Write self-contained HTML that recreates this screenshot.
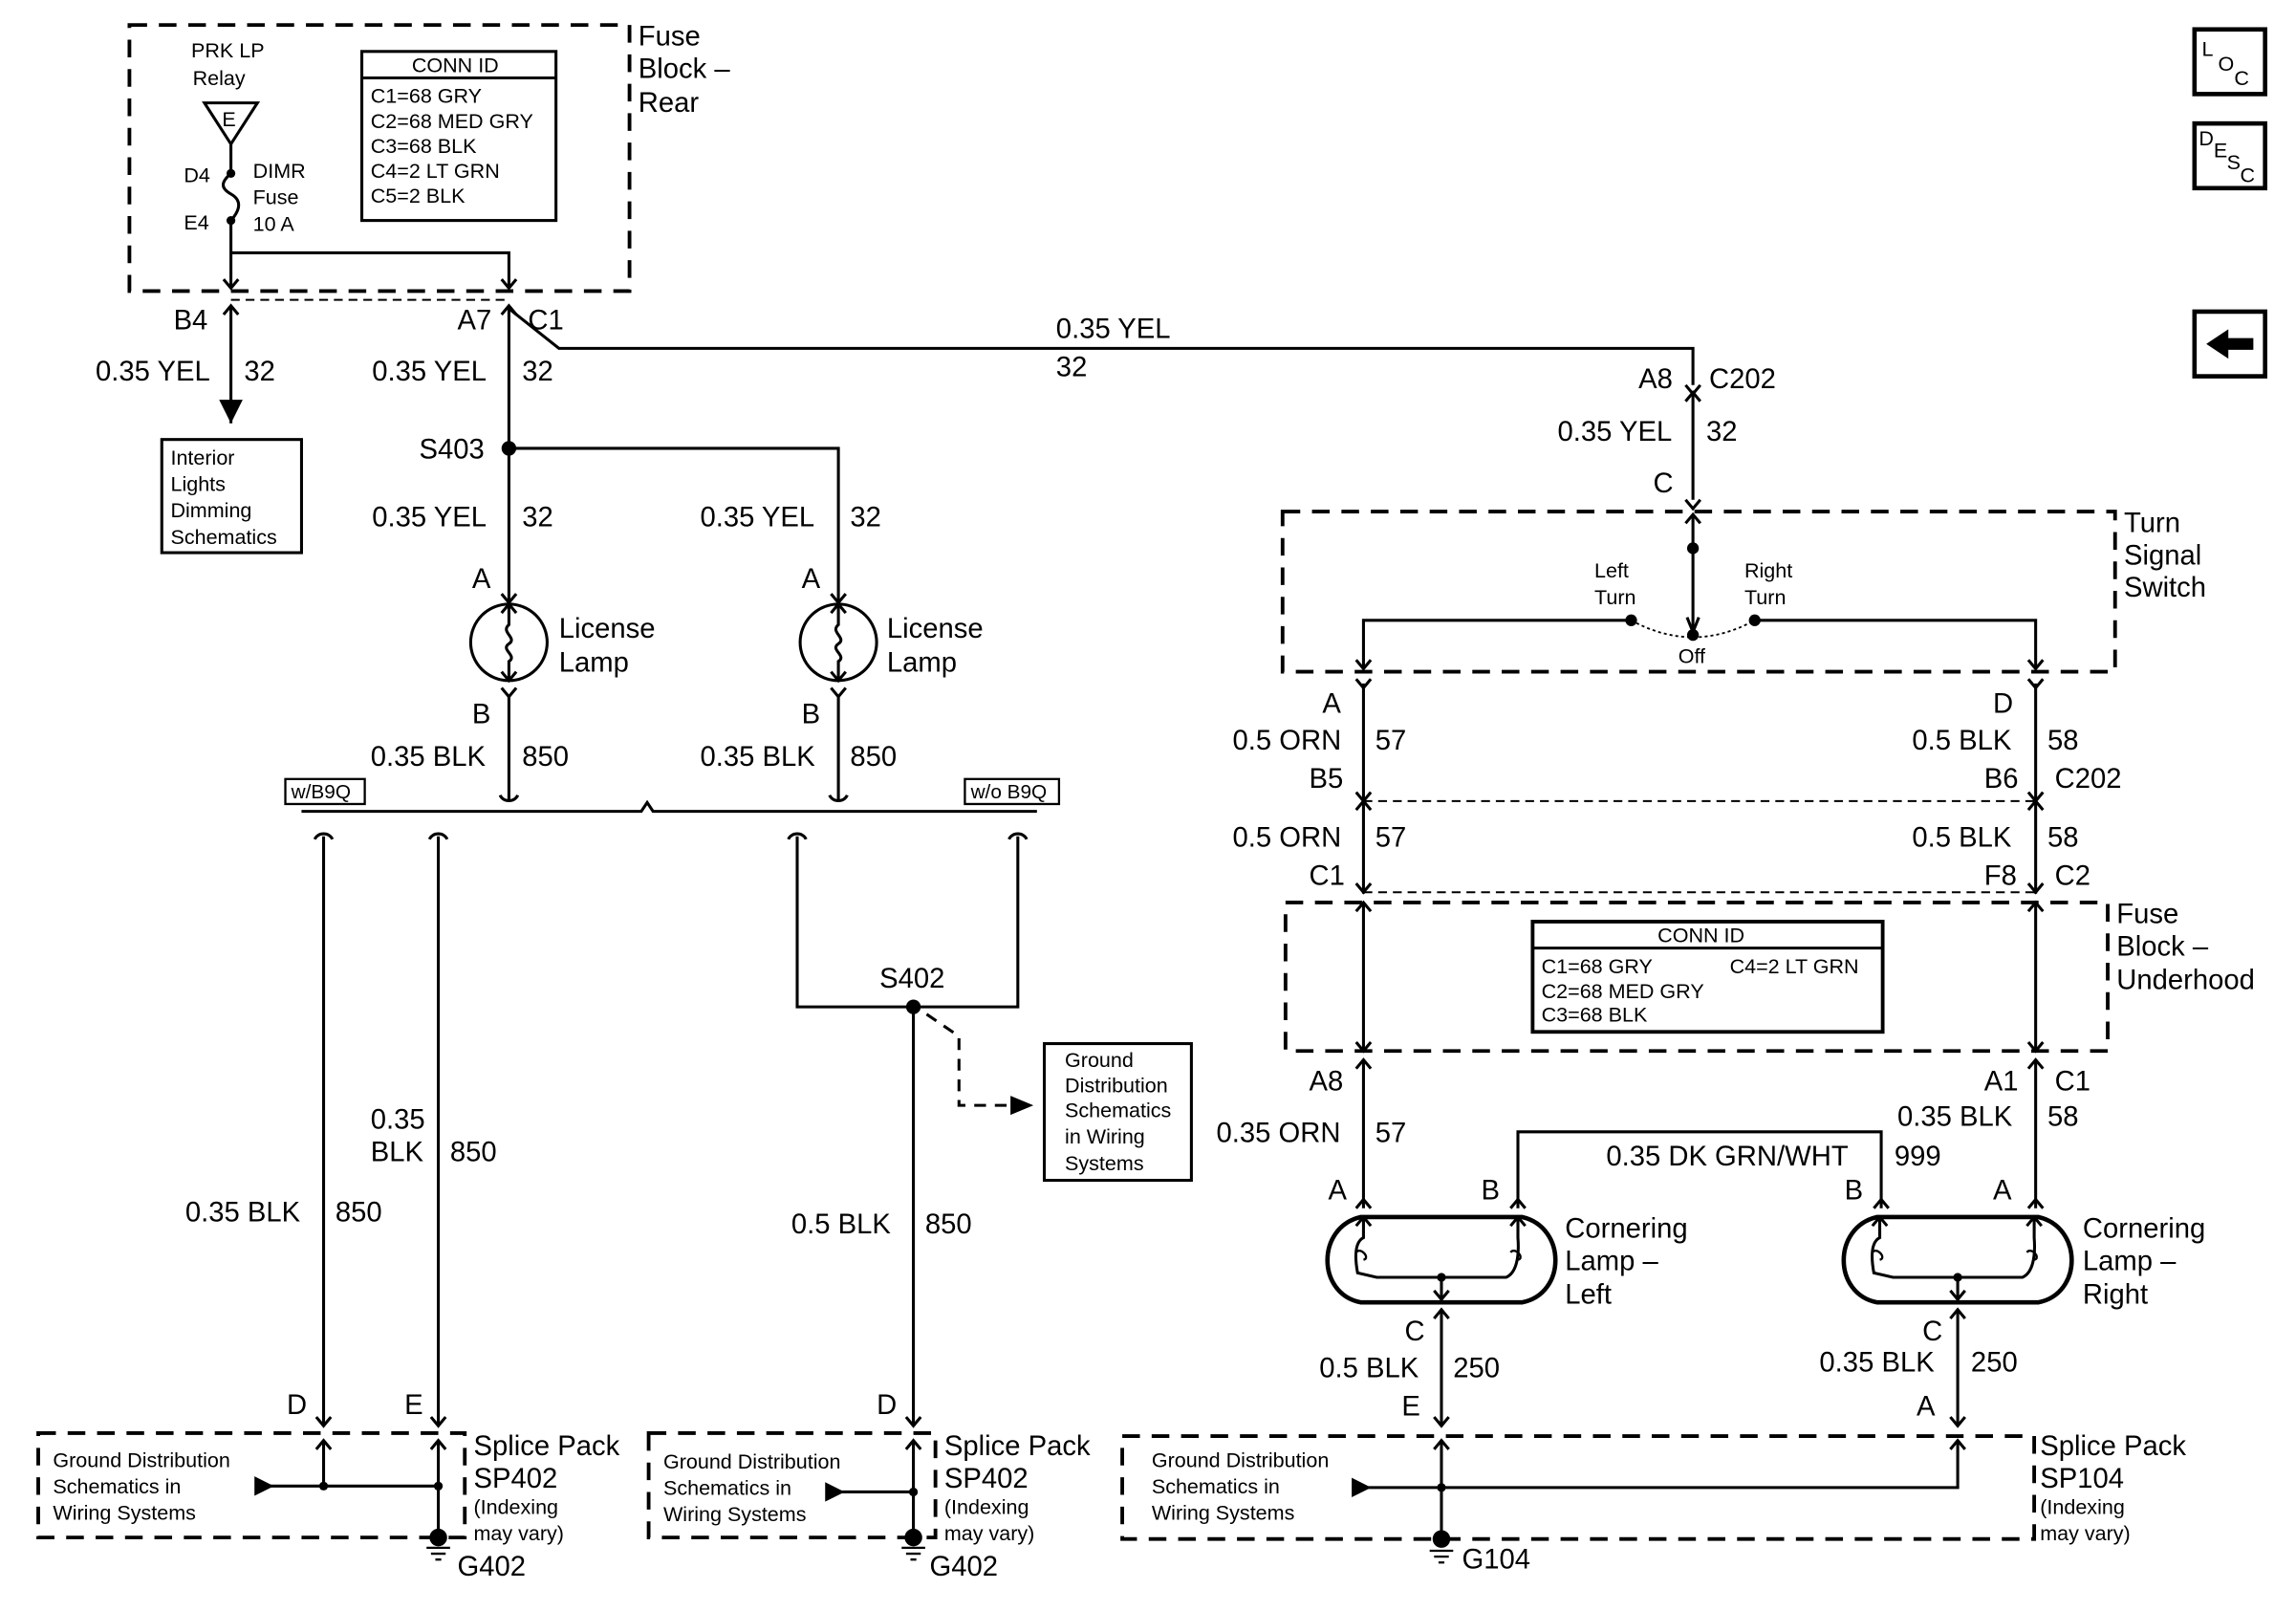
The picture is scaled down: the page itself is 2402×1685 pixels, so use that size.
<!DOCTYPE html>
<html><head><meta charset="utf-8"><style>
html,body{margin:0;padding:0;background:#fff;}
svg{display:block;}
text{font-family:"Liberation Sans",Arial,sans-serif;fill:#000;}
.L{font-size:19px;}
.S{font-size:14px;}
.M{font-size:13.5px;}
</style></head><body>
<svg width="2402" height="1685" viewBox="0 0 1561 1096" preserveAspectRatio="none" xmlns="http://www.w3.org/2000/svg">
<rect width="1561" height="1096" fill="#fff"/>
<defs>
<marker id="ar" viewBox="0 0 10 10" refX="10" refY="5" markerWidth="8" markerHeight="8" orient="auto"><path d="M0,0 L10,5 L0,10 z" fill="#000"/></marker>
</defs>
<g fill="none" stroke="#000" stroke-width="2">
<!-- dashed boxes -->
<g stroke-dasharray="12,8" stroke-width="2.5">
<rect x="88" y="17" width="340" height="181"/>
<rect x="872" y="348" width="566" height="109"/>
<rect x="874" y="614" width="559" height="101"/>
<rect x="26" y="975" width="290" height="71"/>
<rect x="441" y="975" width="195" height="71"/>
<rect x="763" y="977" width="620" height="70"/>
</g>
<g stroke-dasharray="6,4" stroke-width="1.3">
<line x1="157" y1="204" x2="346" y2="204"/>
<line x1="927" y1="545" x2="1384" y2="545"/>
<line x1="927" y1="607" x2="1384" y2="607"/>
</g>
<!-- CONN ID box rear -->
<rect x="246" y="35" width="132" height="115"/>
<line x1="246" y1="53" x2="378" y2="53"/>
<!-- conn id underhood -->
<rect x="1042" y="627" width="238" height="75" stroke-width="2.5"/>
<line x1="1042" y1="645" x2="1280" y2="645"/>
<!-- relay -->
<path d="M139,70 L175,70 L157,98 Z"/>
<line x1="157" y1="98" x2="157" y2="118"/>
<path d="M157,118 C150,124 150,128 157,132 C164,136 164,142 157,150"/>
<line x1="157" y1="150" x2="157" y2="196"/>
<polyline points="157,172 346,172 346,196"/>
<path d="M152,190 L157,196 L162,190 M341,190 L346,196 L351,190"/>
<!-- left branch -->
<path d="M152,214 L157,208 L162,214"/>
<line x1="157" y1="208" x2="157" y2="288" marker-end="url(#ar)"/>
<rect x="110" y="299" width="95" height="77"/>
<path d="M341,214 L346,208 L351,214"/>
<line x1="346" y1="208" x2="346" y2="410"/>
<polyline points="346,210 380,237 1151,237 1151,262"/>
<path d="M1146,262 L1151,268 L1156,262 M1146,273 L1151,267 L1156,273"/>
<line x1="1151" y1="267" x2="1151" y2="340"/>
<path d="M1146,340 L1151,346 L1156,340"/>
<polyline points="346,305 570,305 570,410"/>
<path d="M341,404 L346,410 L351,404 M565,404 L570,410 L575,404"/>
<!-- lamps -->
<circle cx="346" cy="437" r="26"/><circle cx="570" cy="437" r="26"/>
<path d="M346,411 L346,425 C340,430 352,434 346,438 C340,442 352,446 346,450 L346,463 M341,417 L346,411 L351,417 M341,457 L346,463 L351,457"/>
<path d="M570,411 L570,425 C564,430 576,434 570,438 C564,442 576,446 570,450 L570,463 M565,417 L570,411 L575,417 M565,457 L570,463 L575,457"/>
<path d="M341,468 L346,474 L351,468 M565,468 L570,474 L575,468"/>
<line x1="346" y1="474" x2="346" y2="545"/><line x1="570" y1="474" x2="570" y2="545"/>
<path d="M340,541 C342,546 350,546 352,541 M564,541 C566,546 574,546 576,541"/>
<path d="M205,552 L436,552 L440,546 L444,552 L705,552"/>
<rect x="194" y="530" width="54" height="17" stroke-width="1.5"/>
<rect x="656" y="530" width="64" height="17" stroke-width="1.5"/>
<path d="M214,571 C216,566 224,566 226,571 M292,571 C294,566 302,566 304,571 M536,571 C538,566 546,566 548,571 M686,571 C688,566 696,566 698,571"/>
<line x1="220" y1="569" x2="220" y2="970"/><line x1="298" y1="569" x2="298" y2="970"/>
<polyline points="542,569 542,685 692,685 692,569"/>
<line x1="621" y1="685" x2="621" y2="970"/>
<path d="M630,690 L652,705 L652,752 L698,752" stroke-dasharray="8,6"/>
<path d="M688,747 L700,752 L688,757 Z" fill="#000"/>
<rect x="710" y="710" width="100" height="93"/>
<path d="M215,964 L220,970 L225,964 M293,964 L298,970 L303,964 M616,964 L621,970 L626,964"/>
<!-- splice pack left -->
<path d="M215,986 L220,980 L225,986 M293,986 L298,980 L303,986 M616,986 L621,980 L626,986"/>
<line x1="220" y1="980" x2="220" y2="1011"/>
<line x1="298" y1="980" x2="298" y2="1048"/>
<line x1="176" y1="1011" x2="298" y2="1011"/>
<path d="M174,1006 L184,1011 L174,1016 Z" fill="#000"/>
<line x1="621" y1="980" x2="621" y2="1048"/>
<line x1="563" y1="1015" x2="621" y2="1015"/>
<path d="M562,1010 L572,1015 L562,1020 Z" fill="#000"/>
<!-- turn switch -->
<line x1="1151" y1="350" x2="1151" y2="430"/>
<path d="M1146,356 L1151,350 L1156,356 M1147,420 L1151,430 L1155,420"/>
<polyline points="1109,422 927,422 927,455"/>
<polyline points="1193,422 1384,422 1384,455"/>
<path d="M922,449 L927,455 L932,449 M1379,449 L1384,455 L1389,449"/>
<path d="M1109,422 Q1151,445 1193,422" stroke-dasharray="2,2" stroke-width="1.2"/>
<path d="M922,462 L927,468 L932,462 M1379,462 L1384,468 L1389,462"/>
<line x1="927" y1="465" x2="927" y2="608"/><line x1="1384" y1="465" x2="1384" y2="608"/>
<path d="M922,539 L927,545 L932,539 M1379,539 L1384,545 L1389,539 M922,551 L927,545 L932,551 M1379,551 L1384,545 L1389,551"/>
<path d="M922,601 L927,607 L932,601 M1379,601 L1384,607 L1389,601"/>
<line x1="927" y1="614" x2="927" y2="715"/><line x1="1384" y1="614" x2="1384" y2="715"/>
<path d="M922,620 L927,614 L932,620 M1379,620 L1384,614 L1389,620 M922,709 L927,715 L932,709 M1379,709 L1384,715 L1389,709"/>
<path d="M922,727 L927,721 L932,727 M1379,727 L1384,721 L1389,727"/>
<line x1="927" y1="721" x2="927" y2="822"/><line x1="1384" y1="721" x2="1384" y2="822"/>
<polyline points="1032,822 1032,770 1279,770 1279,822"/>
<path d="M922,822 L927,816 L932,822 M1027,822 L1032,816 L1037,822 M1274,822 L1279,816 L1284,822 M1379,822 L1384,816 L1389,822"/>
<!-- cornering lamps -->
<g stroke-width="3">
<path d="M925,828 L1035,828 C1065,835 1065,880 1035,886 L925,886 C895,880 895,835 925,828 Z"/>
<path d="M1276,828 L1386,828 C1416,835 1416,880 1386,886 L1276,886 C1246,880 1246,835 1276,828 Z"/>
</g>
<path d="M927,828 L927,842 C921,845 921,855 923,866 L936,869 L1024,869 C1031,866 1033,855 1032,842 L1032,828 M922,834 L927,828 L932,834 M1027,834 L1032,828 L1037,834 M980,869 L980,884 M975,878 L980,884 L985,878"/>
<path d="M1278,828 L1278,842 C1272,845 1272,855 1274,866 L1287,869 L1375,869 C1382,866 1384,855 1383,842 L1383,828 M1273,834 L1278,828 L1283,834 M1378,834 L1383,828 L1388,834 M1331,869 L1331,884 M1326,878 L1331,884 L1336,878"/>
<path d="M922,852 C925,848 932,856 927,857 M1027,852 C1030,848 1037,856 1032,857 M1273,852 C1276,848 1283,856 1278,857 M1378,852 C1381,848 1388,856 1383,857" stroke-width="1.5"/>
<path d="M975,897 L980,891 L985,897 M1326,897 L1331,891 L1336,897"/>
<line x1="980" y1="891" x2="980" y2="970"/><line x1="1331" y1="891" x2="1331" y2="970"/>
<path d="M975,964 L980,970 L985,964 M1326,964 L1331,970 L1336,964"/>
<path d="M975,986 L980,980 L985,986 M1326,986 L1331,980 L1336,986"/>
<line x1="980" y1="980" x2="980" y2="1050"/>
<polyline points="922,1012 1331,1012 1331,980"/>
<path d="M920,1007 L930,1012 L920,1017 Z" fill="#000"/>
<!-- grounds -->
<path d="M290,1053 L306,1053 M293,1057 L303,1057 M296,1061 L300,1061 M613,1053 L629,1053 M616,1057 L626,1057 M619,1061 L623,1061 M972,1055 L988,1055 M975,1059 L985,1059 M978,1063 L982,1063" stroke-width="1.5"/>
<!-- side icons -->
<rect x="1492" y="20" width="48" height="44" stroke-width="3"/>
<rect x="1492" y="84" width="48" height="44" stroke-width="3"/>
<rect x="1492" y="212" width="48" height="44" stroke-width="3"/>
</g>
<path d="M1500,234 L1515,224 L1515,230 L1532,230 L1532,238 L1515,238 L1515,244 Z" fill="#000"/>
<!-- dots -->
<g fill="#000">
<circle cx="157" cy="118" r="3"/><circle cx="157" cy="150" r="3"/>
<circle cx="346" cy="305" r="5"/><circle cx="621" cy="685" r="5"/>
<circle cx="220" cy="1011" r="3"/><circle cx="298" cy="1011" r="3"/><circle cx="621" cy="1015" r="3"/><circle cx="980" cy="1012" r="3"/>
<circle cx="298" cy="1046" r="6"/><circle cx="621" cy="1046" r="6"/><circle cx="980" cy="1047" r="6"/>
<circle cx="1151" cy="373" r="4"/><circle cx="1109" cy="422" r="4"/><circle cx="1193" cy="422" r="4"/><circle cx="1151" cy="432" r="4"/>
<circle cx="980" cy="869" r="3"/><circle cx="1331" cy="869" r="3"/>
</g>
<!-- text -->
<g class="L">
<text x="434" y="31">Fuse</text><text x="434" y="53">Block –</text><text x="434" y="76">Rear</text>
<text x="118" y="224">B4</text><text x="311" y="224">A7</text><text x="359" y="224">C1</text>
<text x="65" y="259">0.35 YEL</text><text x="166" y="259">32</text>
<text x="253" y="259">0.35 YEL</text><text x="355" y="259">32</text>
<text x="718" y="230">0.35 YEL</text><text x="718" y="256">32</text>
<text x="1114" y="264">A8</text><text x="1162" y="264">C202</text>
<text x="1059" y="300">0.35 YEL</text><text x="1160" y="300">32</text>
<text x="1124" y="335">C</text>
<text x="285" y="312">S403</text>
<text x="253" y="358">0.35 YEL</text><text x="355" y="358">32</text>
<text x="476" y="358">0.35 YEL</text><text x="578" y="358">32</text>
<text x="321" y="400">A</text><text x="545" y="400">A</text>
<text x="380" y="434">License</text><text x="380" y="457">Lamp</text>
<text x="603" y="434">License</text><text x="603" y="457">Lamp</text>
<text x="321" y="492">B</text><text x="545" y="492">B</text>
<text x="252" y="521">0.35 BLK</text><text x="355" y="521">850</text>
<text x="476" y="521">0.35 BLK</text><text x="578" y="521">850</text>
<text x="598" y="672">S402</text>
<text x="252" y="768">0.35</text><text x="252" y="790">BLK</text><text x="306" y="790">850</text>
<text x="126" y="831">0.35 BLK</text><text x="228" y="831">850</text>
<text x="538" y="839">0.5 BLK</text><text x="629" y="839">850</text>
<text x="195" y="962">D</text><text x="275" y="962">E</text><text x="596" y="962">D</text>
<text x="322" y="990">Splice Pack</text><text x="322" y="1012">SP402</text>
<text x="642" y="990">Splice Pack</text><text x="642" y="1012">SP402</text>
<text x="1387" y="990">Splice Pack</text><text x="1387" y="1012">SP104</text>
<text x="311" y="1072">G402</text><text x="632" y="1072">G402</text><text x="994" y="1067">G104</text>
<text x="1444" y="362">Turn</text><text x="1444" y="384">Signal</text><text x="1444" y="406">Switch</text>
<text x="899" y="485">A</text><text x="1355" y="485">D</text>
<text x="838" y="510">0.5 ORN</text><text x="935" y="510">57</text>
<text x="1300" y="510">0.5 BLK</text><text x="1392" y="510">58</text>
<text x="890" y="536">B5</text><text x="1349" y="536">B6</text><text x="1397" y="536">C202</text>
<text x="838" y="576">0.5 ORN</text><text x="935" y="576">57</text>
<text x="1300" y="576">0.5 BLK</text><text x="1392" y="576">58</text>
<text x="890" y="602">C1</text><text x="1349" y="602">F8</text><text x="1397" y="602">C2</text>
<text x="1439" y="628">Fuse</text><text x="1439" y="650">Block –</text><text x="1439" y="673">Underhood</text>
<text x="890" y="742">A8</text><text x="1349" y="742">A1</text><text x="1397" y="742">C1</text>
<text x="827" y="777">0.35 ORN</text><text x="935" y="777">57</text>
<text x="1290" y="766">0.35 BLK</text><text x="1392" y="766">58</text>
<text x="1092" y="793">0.35 DK GRN/WHT</text><text x="1288" y="793">999</text>
<text x="903" y="816">A</text><text x="1007" y="816">B</text><text x="1254" y="816">B</text><text x="1355" y="816">A</text>
<text x="1064" y="842">Cornering</text><text x="1064" y="864">Lamp –</text><text x="1064" y="887">Left</text>
<text x="1416" y="842">Cornering</text><text x="1416" y="864">Lamp –</text><text x="1416" y="887">Right</text>
<text x="955" y="912">C</text><text x="1307" y="912">C</text>
<text x="897" y="937">0.5 BLK</text><text x="988" y="937">250</text>
<text x="1237" y="933">0.35 BLK</text><text x="1340" y="933">250</text>
<text x="953" y="963">E</text><text x="1303" y="963">A</text>
</g>
<g class="S">
<text x="130" y="39">PRK LP</text><text x="131" y="58">Relay</text>
<text x="151" y="86">E</text>
<text x="125" y="124">D4</text><text x="125" y="156">E4</text>
<text x="172" y="121">DIMR</text><text x="172" y="139">Fuse</text><text x="172" y="157">10 A</text>
<text x="280" y="49">CONN ID</text>
<text x="252" y="70">C1=68 GRY</text><text x="252" y="87">C2=68 MED GRY</text><text x="252" y="104">C3=68 BLK</text><text x="252" y="121">C4=2 LT GRN</text><text x="252" y="138">C5=2 BLK</text>
<text x="116" y="316">Interior</text><text x="116" y="334">Lights</text><text x="116" y="352">Dimming</text><text x="116" y="370">Schematics</text>
<text x="198" y="543" class="M">w/B9Q</text><text x="660" y="543" class="M">w/o B9Q</text>
<text x="724" y="726">Ground</text><text x="724" y="743">Distribution</text><text x="724" y="760">Schematics</text><text x="724" y="778">in Wiring</text><text x="724" y="796">Systems</text>
<text x="1084" y="393">Left</text><text x="1084" y="411">Turn</text>
<text x="1186" y="393">Right</text><text x="1186" y="411">Turn</text>
<text x="1141" y="451">Off</text>
<text x="1127" y="641">CONN ID</text>
<text x="1048" y="662">C1=68 GRY</text><text x="1176" y="662">C4=2 LT GRN</text>
<text x="1048" y="679">C2=68 MED GRY</text><text x="1048" y="695">C3=68 BLK</text>
<text x="36" y="998">Ground Distribution</text><text x="36" y="1016">Schematics in</text><text x="36" y="1034">Wiring Systems</text>
<text x="451" y="999">Ground Distribution</text><text x="451" y="1017">Schematics in</text><text x="451" y="1035">Wiring Systems</text>
<text x="783" y="998">Ground Distribution</text><text x="783" y="1016">Schematics in</text><text x="783" y="1034">Wiring Systems</text>
<text x="322" y="1030">(Indexing</text><text x="322" y="1048">may vary)</text>
<text x="642" y="1030">(Indexing</text><text x="642" y="1048">may vary)</text>
<text x="1387" y="1030">(Indexing</text><text x="1387" y="1048">may vary)</text>
<text x="1497" y="38">L</text><text x="1508" y="48">O</text><text x="1519" y="58">C</text>
<text x="1495" y="99">D</text><text x="1505" y="107">E</text><text x="1514" y="115">S</text><text x="1523" y="124">C</text>
</g>
</svg>
</body></html>
